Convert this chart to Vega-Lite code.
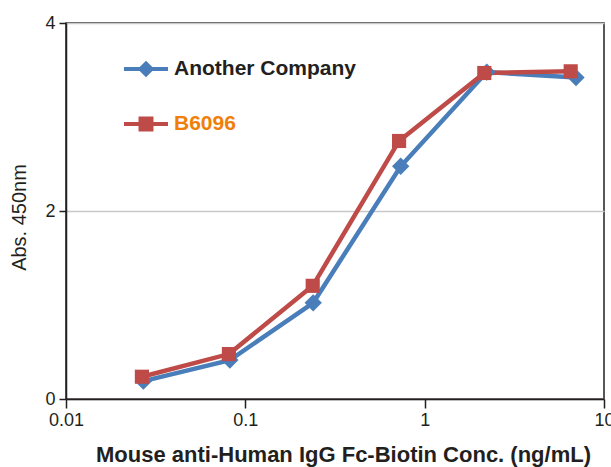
{
  "$schema": "https://vega.github.io/schema/vega-lite/v6.json",
  "width": 538,
  "height": 376,
  "autosize": {"type": "none"},
  "padding": {"left": 66, "top": 23, "right": 7, "bottom": 68},
  "background": "white",
  "config": {
    "view": {"stroke": "#231f20", "strokeWidth": 1.5},
    "font": "Liberation Sans"
  },
  "data": {
    "values": [
      {"series": "Another Company", "conc": 0.027, "abs": 0.19},
      {"series": "Another Company", "conc": 0.082, "abs": 0.414},
      {"series": "Another Company", "conc": 0.239, "abs": 1.023},
      {"series": "Another Company", "conc": 0.735, "abs": 2.476},
      {"series": "Another Company", "conc": 2.22, "abs": 3.478},
      {"series": "Another Company", "conc": 6.98, "abs": 3.419},
      {"series": "B6096", "conc": 0.0265, "abs": 0.237},
      {"series": "B6096", "conc": 0.081, "abs": 0.478},
      {"series": "B6096", "conc": 0.2375, "abs": 1.204},
      {"series": "B6096", "conc": 0.72, "abs": 2.745},
      {"series": "B6096", "conc": 2.15, "abs": 3.468},
      {"series": "B6096", "conc": 6.52, "abs": 3.486}
    ]
  },
  "encoding": {
    "x": {
      "field": "conc", "type": "quantitative",
      "scale": {"type": "log", "domain": [0.01, 10], "nice": false},
      "axis": {
        "values": [0.01, 0.1, 1, 10], "format": "~g",
        "title": "Mouse anti-Human IgG Fc-Biotin Conc. (ng/mL)",
        "titleFont": "Liberation Sans", "titleFontSize": 22, "titleFontWeight": "bold",
        "titleColor": "#231f20", "titlePadding": 15, "titleX": 277,
        "labelFontSize": 18, "labelColor": "#231f20", "labelPadding": 3,
        "labelFlush": false, "labelOverlap": false,
        "domainColor": "#231f20", "domainWidth": 1.5,
        "tickColor": "#231f20", "tickWidth": 1.5, "tickSize": 9,
        "grid": false
      }
    },
    "y": {
      "field": "abs", "type": "quantitative",
      "scale": {"domain": [0, 4], "nice": false},
      "axis": {
        "values": [0, 2, 4],
        "title": "Abs. 450nm",
        "titleFont": "Liberation Sans", "titleFontSize": 20, "titleFontWeight": "normal",
        "titleColor": "#231f20", "titlePadding": 15, "titleY": 194,
        "labelFontSize": 18, "labelColor": "#231f20", "labelPadding": 4,
        "domainColor": "#231f20", "domainWidth": 1.5,
        "tickColor": "#231f20", "tickWidth": 1.5, "tickSize": 7,
        "grid": true, "gridColor": "#c8c8c8", "gridWidth": 1.5
      }
    },
    "color": {
      "field": "series", "type": "nominal",
      "scale": {"domain": ["Another Company", "B6096"], "range": ["#4a7ebb", "#be4b48"]},
      "legend": {
        "title": null,
        "orient": "none",
        "legendX": 58,
        "legendY": 24,
        "symbolSize": 1936,
        "symbolStrokeWidth": 0,
        "symbolOpacity": 1,
        "labelFontSize": 21,
        "labelFontWeight": "bold",
        "labelOffset": 6,
        "rowPadding": 23,
        "labelLimit": 400,
        "encode": {
          "symbols": {
            "update": {
              "shape": {"signal": "datum.value == 'B6096' ? 'M-1,-0.09L1,-0.09L1,0.09L-1,0.09Z M-0.34,-0.34L0.34,-0.34L0.34,0.34L-0.34,0.34Z' : 'M-1,-0.09L1,-0.09L1,0.09L-1,0.09Z M0,-0.38L0.38,0L0,0.38L-0.38,0Z'"},
              "size": {"value": 1936},
              "fill": {"signal": "datum.value == 'B6096' ? '#be4b48' : '#4a7ebb'"},
              "strokeWidth": {"value": 0}
            }
          },
          "labels": {
            "update": {
              "fill": {"signal": "datum.value == 'B6096' ? '#f07f0a' : '#231f20'"}
            }
          }
        }
      }
    }
  },
  "layer": [
    {
      "mark": {"type": "line", "strokeWidth": 4.5}
    },
    {
      "mark": {"type": "point", "filled": true, "opacity": 1},
      "encoding": {
        "shape": {
          "condition": {"test": "datum.series == 'B6096'", "value": "square"},
          "value": "diamond"
        },
        "size": {
          "condition": {"test": "datum.series == 'B6096'", "value": 200},
          "value": 300
        }
      }
    }
  ]
}
